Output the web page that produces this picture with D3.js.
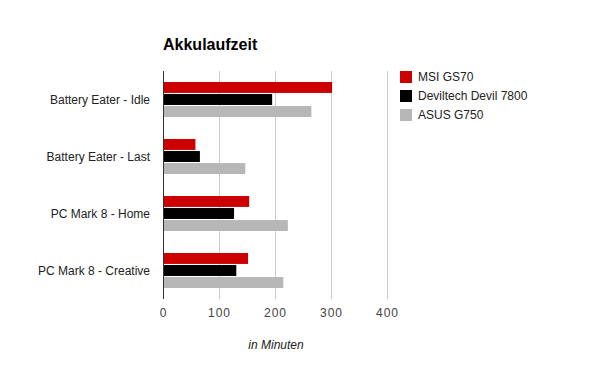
<!DOCTYPE html>
<html>
<head>
<meta charset="utf-8">
<script src="https://cdn.jsdelivr.net/npm/d3@7"></script>
<style>
  body { margin: 0; background: #fff; }
  text { font-family: Arial, "Liberation Sans", sans-serif; }
</style>
</head>
<body>
<div id="chart"></div>
<script>
var categories = ['Battery Eater - Idle', 'Battery Eater - Last', 'PC Mark 8 - Home', 'PC Mark 8 - Creative'];
var seriesNames = ['MSI GS70', 'Deviltech Devil 7800', 'ASUS G750'];
var msiValues = [301, 57, 153, 151];
var devilValues = [194, 65, 126, 130];
var asusValues = [264, 146, 222, 214];
var xTicks = [0, 100, 200, 300, 400];
var colors = ['#cc0000', '#000000', '#b7b7b7'];

(function(d3) {
  'use strict';
  var width = 600, height = 371;
  var plotLeft = 163.5, plotRight = 387.5, plotTop = 71, plotBottom = 299;

  var svg = d3.select('#chart').append('svg')
    .attr('width', width)
    .attr('height', height);

  var x = d3.scaleLinear().domain([0, 400]).range([plotLeft, plotRight]);
  var y = d3.scaleBand().domain(categories).range([plotTop, plotBottom]).paddingInner(0.386).paddingOuter(0.193);
  var ySeries = d3.scaleBand().domain(seriesNames).range([0, y.bandwidth()]).paddingInner(0.09);

  // gridlines
  svg.selectAll('.grid')
    .data(xTicks.slice(1))
    .enter()
    .append('line')
    .attr('x1', function(d) { return Math.round(x(d)) - 0.5; })
    .attr('x2', function(d) { return Math.round(x(d)) - 0.5; })
    .attr('y1', plotTop)
    .attr('y2', plotBottom)
    .attr('stroke', '#cccccc');

  var rows = categories.map(function(c, i) {
    return [msiValues[i], devilValues[i], asusValues[i]];
  });

  var groups = svg.selectAll('.group')
    .data(rows)
    .enter()
    .append('g')
    .attr('transform', function(d, i) { return 'translate(0,' + y(categories[i]) + ')'; });

  groups.selectAll('rect')
    .data(function(d) { return d; })
    .enter()
    .append('rect')
    .attr('x', x(0))
    .attr('y', function(d, i) { return ySeries(seriesNames[i]); })
    .attr('height', ySeries.bandwidth())
    .attr('width', function(d) { return x(d) - x(0); })
    .attr('fill', function(d, i) { return colors[i]; });

  // axis line
  svg.append('line')
    .attr('x1', Math.round(x(0)) - 0.5)
    .attr('x2', Math.round(x(0)) - 0.5)
    .attr('y1', plotTop)
    .attr('y2', plotBottom)
    .attr('stroke', '#333333');

  // category labels
  svg.selectAll('.cat')
    .data(categories)
    .enter()
    .append('text')
    .attr('x', 150)
    .attr('y', function(d) { return y(d) + y.bandwidth() / 2; })
    .attr('dy', '0.35em')
    .attr('text-anchor', 'end')
    .attr('font-size', 12)
    .attr('fill', '#222222')
    .text(function(d) { return d; });

  // tick labels
  svg.selectAll('.tick')
    .data(xTicks)
    .enter()
    .append('text')
    .attr('x', function(d) { return x(d); })
    .attr('y', 317)
    .attr('text-anchor', 'middle')
    .attr('font-size', 12)
    .attr('letter-spacing', 1)
    .attr('fill', '#444444')
    .text(function(d) { return d; });

  // axis title
  svg.append('text')
    .attr('x', 276)
    .attr('y', 349)
    .attr('text-anchor', 'middle')
    .attr('font-size', 12)
    .attr('font-style', 'italic')
    .attr('fill', '#222222')
    .text('in Minuten');

  // title
  svg.append('text')
    .attr('x', 163)
    .attr('y', 50)
    .attr('font-size', 16)
    .attr('font-weight', 'bold')
    .attr('fill', '#000000')
    .text('Akkulaufzeit');

  // legend
  var legend = svg.selectAll('.legend')
    .data(seriesNames)
    .enter()
    .append('g')
    .attr('transform', function(d, i) { return 'translate(400,' + (71 + i * 19) + ')'; });

  legend.append('rect')
    .attr('width', 12)
    .attr('height', 12)
    .attr('fill', function(d, i) { return colors[i]; });

  legend.append('text')
    .attr('x', 18)
    .attr('y', 6)
    .attr('dy', '0.35em')
    .attr('font-size', 12)
    .attr('fill', '#222222')
    .text(function(d) { return d; });
})(window.d3);
</script>
</body>
</html>
